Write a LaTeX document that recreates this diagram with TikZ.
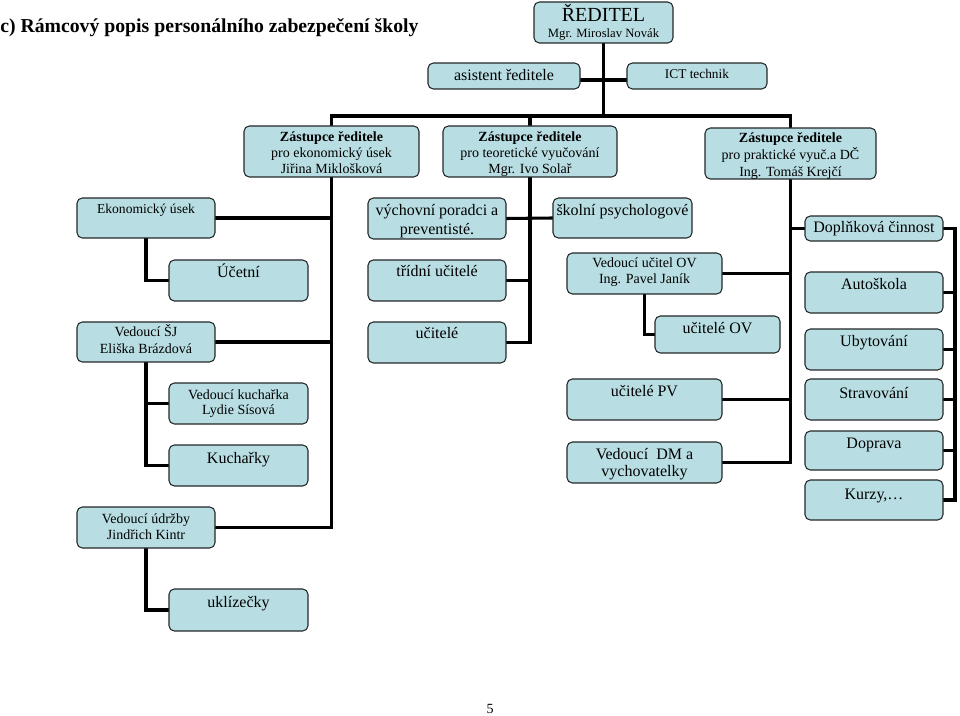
\documentclass[tikz,border=0pt]{standalone}
\usepackage{fontspec}
\setmainfont{Liberation Serif}
\usetikzlibrary{backgrounds}
\definecolor{boxfill}{RGB}{184,222,227}
\definecolor{boxline}{RGB}{35,40,40}
\tikzset{
  orgbox/.style={draw=boxline, line width=0.8pt, fill=boxfill, rounded corners=4pt, inner sep=0pt, outer sep=0pt},
  conn/.style={line width=2.3pt, line join=miter, draw=black}
}
\newcommand\fA{\fontsize{12}{14}\selectfont}
\newcommand\fB{\fontsize{10.5}{12}\selectfont}
\newcommand\fZ{\fontsize{10.5}{11.7}\selectfont}
\newcommand\obox[8]{%
  \pgfmathsetmacro\obw{(#4-#2)*0.75}%
  \pgfmathsetmacro\obh{(#5-#3)*0.75}%
  \pgfmathsetmacro\obb{#6*0.75}%
  \node[orgbox] (#1) at ({(#2+#4)/2},{(#3+#5)/2}) {\parbox[c][\obh pt][t]{\obw pt}{#7\centering\rule{0pt}{\obb pt}#8\par}};%
}
\begin{document}
\begin{tikzpicture}[x=0.75pt,y=-0.75pt]
\useasboundingbox (0,0) rectangle (960,716);
\node[anchor=base west, inner sep=0pt] (title) at (0,33) {\fontsize{14.8}{17}\selectfont\bfseries c) Rámcový popis personálního zabezpečení školy};
\node[anchor=base, inner sep=0pt] (pg) at (490,713) {\fontsize{10.5}{12}\selectfont 5};

\obox{red}{534}{2}{673}{43}{20}{\fontsize{15}{12}\selectfont}{ŘEDITEL\\[-0.5pt]{\fontsize{9.5}{12}\selectfont Mgr. Miroslav Novák}}
\obox{asist}{428}{63}{580}{89}{18}{\fA}{asistent ředitele}
\obox{ict}{627}{63}{767}{89}{16}{\fontsize{10}{12}\selectfont}{ICT technik}
\obox{zast1}{244}{126}{419}{177}{16}{\fZ}{\textbf{Zástupce ředitele}\\pro ekonomický úsek\\Jiřina Miklošková}
\obox{zast2}{443}{126}{617}{177}{16}{\fZ}{\textbf{Zástupce ředitele}\\pro teoretické vyučování\\Mgr. Ivo Solař}
\obox{zast3}{705}{128}{876}{179}{15}{\fontsize{10.5}{12.7}\selectfont}{\textbf{Zástupce ředitele}\\pro praktické vyuč.a DČ\\Ing. Tomáš Krejčí}
\obox{ekon}{77}{198}{215}{238}{16}{\fontsize{10.2}{12}\selectfont}{Ekonomický úsek}
\obox{vych}{368}{198}{506}{239}{18}{\fontsize{12}{14.2}\selectfont}{výchovní poradci a\\preventisté.}
\obox{skol}{553}{198}{692}{238}{18}{\fA}{školní psychologové}
\obox{dopl}{805}{216}{943}{241}{17}{\fA}{Doplňková činnost}
\obox{ucet}{169}{260}{308}{301}{18}{\fA}{Účetní}
\obox{trid}{368}{260}{506}{301}{17}{\fA}{třídní učitelé}
\obox{vov}{567}{253}{722}{294}{15}{\fB}{Vedoucí učitel OV\\Ing. Pavel Janík}
\obox{auto}{805}{272}{943}{313}{18}{\fA}{Autoškola}
\obox{sj}{77}{322}{215}{362}{15}{\fB}{Vedoucí ŠJ\\Eliška Brázdová}
\obox{ucit}{368}{322}{506}{363}{17}{\fA}{učitelé}
\obox{uov}{655}{316}{780}{353}{17}{\fA}{učitelé OV}
\obox{ubyt}{805}{329}{943}{370}{18}{\fA}{Ubytování}
\obox{vkuch}{169}{383}{308}{424}{16}{\fB}{Vedoucí kuchařka\\Lydie Sísová}
\obox{upv}{567}{379}{722}{420}{18}{\fA}{učitelé PV}
\obox{strav}{805}{379}{943}{420}{19}{\fA}{Stravování}
\obox{kuch}{169}{445}{308}{486}{18}{\fA}{Kuchařky}
\obox{vdm}{567}{442}{722}{483}{18}{\fontsize{12}{12.7}\selectfont}{Vedoucí~ DM a\\vychovatelky}
\obox{dopr}{805}{431}{943}{470}{17}{\fA}{Doprava}
\obox{kurzy}{805}{480}{943}{520}{19}{\fA}{Kurzy,…}
\obox{udrz}{77}{507}{215}{548}{16}{\fB}{Vedoucí údržby\\Jindřich Kintr}
\obox{ukl}{169}{589}{308}{631}{18}{\fA}{uklízečky}

\begin{pgfonlayer}{background}
\coordinate (bar) at (604,116);
\coordinate (hj) at (604,80);
\coordinate (rb) at (955,0);
\draw[conn] (red.south) -- (red.south |- bar);
\draw[conn] (asist.east |- hj) -- (ict.west |- hj);
\draw[conn] (zast1.north) -- (zast1.north |- bar) -- (zast3.north |- bar) -- (zast3.north);
\draw[conn] (zast2.north) -- (zast2.north |- bar);
% economic branch
\draw[conn] (zast1.south) |- (udrz.east);
\draw[conn] (ekon.east) -- (ekon.east -| zast1.south);
\draw[conn] (sj.east) -- (sj.east -| zast1.south);
\draw[conn] (ekon.south) |- (ucet.west);
\draw[conn] (sj.south) |- (kuch.west);
\draw[conn] (vkuch.west) -- (vkuch.west -| sj.south);
\draw[conn] (udrz.south) |- (ukl.west);
% theoretical branch
\draw[conn] (zast2.south) |- (ucit.east);
\draw[conn] (vych.east) -- (skol.west);
\draw[conn] (trid.east) -- (trid.east -| zast2.south);
% practical branch
\draw[conn] (zast3.south) |- (vdm.east);
\draw[conn] (dopl.west) -- (dopl.west -| zast3.south);
\draw[conn] (vov.east) -- (vov.east -| zast3.south);
\draw[conn] (upv.east) -- (upv.east -| zast3.south);
\draw[conn] (vov.south) |- (uov.west);
\draw[conn] (dopl.east) -| (rb |- kurzy.east) -- (kurzy.east);
\draw[conn] (auto.east) -- (auto.east -| rb);
\draw[conn] (ubyt.east) -- (ubyt.east -| rb);
\draw[conn] (strav.east) -- (strav.east -| rb);
\draw[conn] (dopr.east) -- (dopr.east -| rb);
\end{pgfonlayer}
\end{tikzpicture}
\end{document}
